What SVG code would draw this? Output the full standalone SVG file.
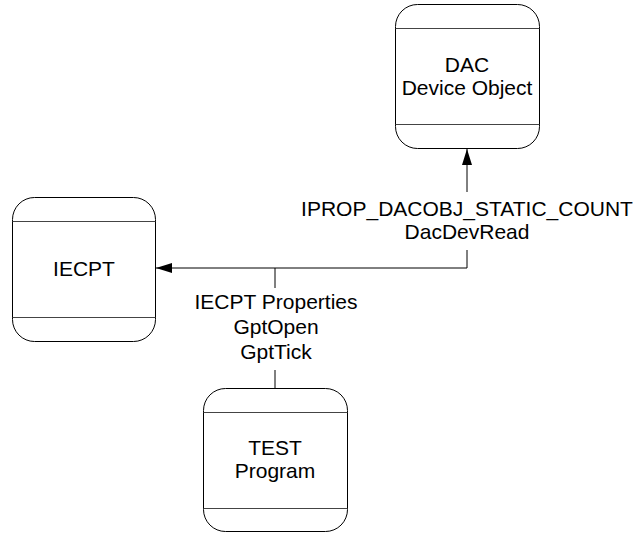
<svg xmlns="http://www.w3.org/2000/svg" width="635" height="533" viewBox="0 0 635 533">
<defs>
<style>
.box{fill:#fff;stroke:#000;stroke-width:1}
.div{stroke:#444;stroke-width:1}
.t{font-family:"Liberation Sans",Arial,sans-serif;font-size:21px;fill:#000;text-anchor:middle}
.ln{stroke:#000;stroke-width:1;fill:none}
</style>
<marker id="arr" markerWidth="16" markerHeight="10" refX="16" refY="5" orient="auto" markerUnits="userSpaceOnUse">
<path d="M0,0 L16,5 L0,10 Z" fill="#000"/>
</marker>
</defs>
<rect width="635" height="533" fill="#fff"/>
<g id="connectors">
<path class="ln" d="M467,250 L467,268 L156,268" marker-end="url(#arr)"/>
<path class="ln" d="M467,192 L467,149" marker-end="url(#arr)"/>
<path class="ln" d="M275,268 L275,288"/>
<path class="ln" d="M275,370 L275,388"/>
<text class="t" x="467" y="216">IPROP_DACOBJ_STATIC_COUNT</text>
<text class="t" x="467" y="239">DacDevRead</text>
<text class="t" x="276" y="309">IECPT Properties</text>
<text class="t" x="276" y="334">GptOpen</text>
<text class="t" x="276" y="359">GptTick</text>
</g>
<g id="dac">
<rect class="box" x="395.5" y="4.5" width="144" height="144" rx="22" ry="22"/>
<line class="div" x1="395.5" y1="28.5" x2="539.5" y2="28.5"/>
<line class="div" x1="395.5" y1="124.5" x2="539.5" y2="124.5"/>
<text class="t" x="467" y="72">DAC</text>
<text class="t" x="467" y="95">Device Object</text>
</g>
<g id="iecpt">
<rect class="box" x="12.5" y="197.5" width="143" height="144" rx="22" ry="22"/>
<line class="div" x1="12.5" y1="221.5" x2="155.5" y2="221.5"/>
<line class="div" x1="12.5" y1="317.5" x2="155.5" y2="317.5"/>
<text class="t" x="84" y="276">IECPT</text>
</g>
<g id="test">
<rect class="box" x="203.5" y="388.5" width="144" height="143" rx="22" ry="22"/>
<line class="div" x1="203.5" y1="412.5" x2="347.5" y2="412.5"/>
<line class="div" x1="203.5" y1="508.5" x2="347.5" y2="508.5"/>
<text class="t" x="275" y="455">TEST</text>
<text class="t" x="275" y="478">Program</text>
</g>
</svg>
